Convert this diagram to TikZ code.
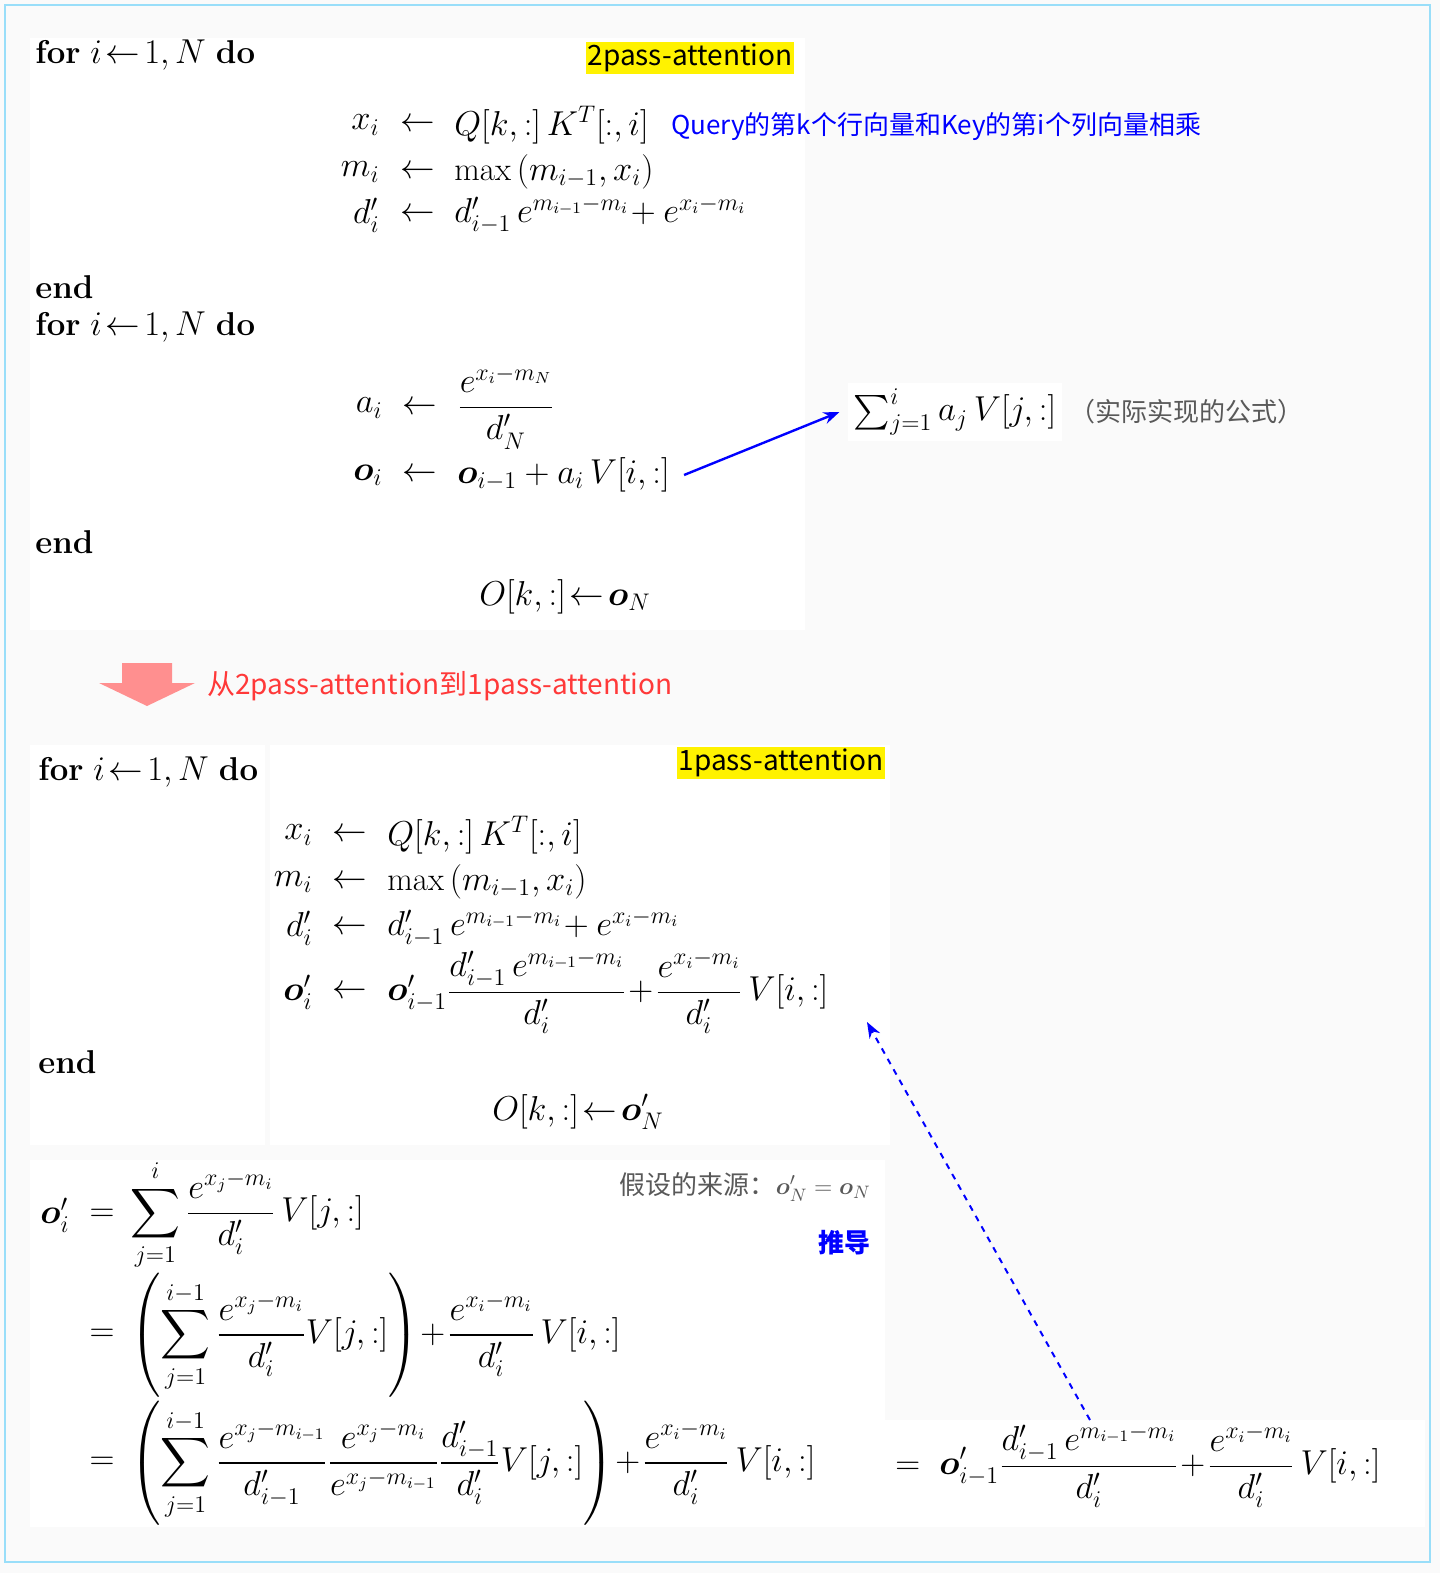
\documentclass[tikz,border=0pt]{standalone}
\usepackage{amsmath,bm}
\usepackage{fontspec}
\newfontfamily\cjk{Noto Sans CJK SC}
\usetikzlibrary{arrows.meta}
\tikzset{
  m/.style={font=\fontsize{16.5}{19}\selectfont, inner sep=1pt},
  lhs/.style={m, anchor=east},
  rhs/.style={m, anchor=west},
  kw/.style={m, anchor=west},
  panel/.style={fill=white, draw=none},
  tag/.style={font=\cjk\fontsize{14}{16}\selectfont, fill=yellow, inner sep=1pt},
  gray/.style={font=\cjk\fontsize{13}{16}\selectfont, text=black!65},
}
\newcommand{\la}{\leftarrow}
\begin{document}
\begin{tikzpicture}[x=0.5pt,y=-0.5pt]
\useasboundingbox (0,0) rectangle (1440,1573);
\fill[black!2] (0,0) rectangle (1440,1573);
\draw[cyan!40, line width=1pt] (5,5) rectangle (1430,1562);
% panels
\fill[panel] (30,38) rectangle (805,630);
\fill[panel] (30,745) rectangle (265,1145);
\fill[panel] (270,745) rectangle (890,1145);
\fill[panel] (30,1160) rectangle (885,1527);
\fill[panel] (885,1420) rectangle (1425,1527);
% top block
\node[kw] (for1) at (33,55) {\textbf{for} $i\!\la\!1,N$ \textbf{do}};
\node[tag] (t2) at (690,58) {2pass-attention};
\node[lhs] (x1) at (382,125) {$x_i$};
\node[m] at (418,125) {$\la$};
\node[rhs] (x1r) at (452,125) {$Q[k,:]\,K^T[:,i]$};
\node[anchor=west, font=\cjk\fontsize{13}{16}\selectfont, text=blue] (q) at (664,127) {Query的第k个行向量和Key的第i个列向量相乘};
\node[lhs] (m1) at (382,172) {$m_i$};
\node[m] at (418,172) {$\la$};
\node[rhs] (m1r) at (452,172) {$\max\,(m_{i-1},x_i)$};
\node[lhs] (d1) at (382,215) {$d'_i$};
\node[m] at (418,215) {$\la$};
\node[rhs] (d1r) at (452,215) {$d'_{i-1}\,e^{m_{i-1}-m_i}\!+e^{x_i-m_i}$};
\node[kw] (end1) at (33,287) {\textbf{end}};
\node[kw] (for2) at (33,327) {\textbf{for} $i\!\la\!1,N$ \textbf{do}};
\node[lhs] (a1) at (385,408) {$a_i$};
\node[m] at (420,408) {$\la$};
\node[rhs] (a1r) at (455,408) {$\dfrac{e^{x_i-m_N}}{d'_N}$};
\node[lhs] (o1) at (385,475) {$\bm{o}_i$};
\node[m] at (420,475) {$\la$};
\node[rhs] (o1r) at (455,475) {$\bm{o}_{i-1}+a_i\,V[i,:]$};
\node[kw] (end2) at (33,542) {\textbf{end}};
\node[m] (O1) at (565,597) {$O[k,:]\!\la\!\bm{o}_N$};
\node[m, fill=white, inner sep=3pt] (sum) at (955,412) {$\sum_{j=1}^{i} a_j\,V[j,:]$};
\node[gray, anchor=west] (impl) at (sum.east) {（实际实现的公式）};
\draw[blue, line width=1.2pt, -{Stealth[length=8pt]}] ([xshift=6pt]o1r.east) -- ([xshift=-4pt]sum.west);
% big arrow
\fill[red!40!pink!80] (122,663) -- (172,663) -- (172,683) -- (195,683) -- (147,706) -- (99,683) -- (122,683) -- cycle;
\node[anchor=west, font=\cjk\fontsize{14}{16}\selectfont, text=red!70!pink] (tr) at (200,686) {从2pass-attention到1pass-attention};
% bottom block
\node[kw] (for3) at (36,772) {\textbf{for} $i\!\la\!1,N$ \textbf{do}};
\node[tag] (t1) at (781,763) {1pass-attention};
\node[lhs] (x2) at (315,835) {$x_i$};
\node[m] at (350,835) {$\la$};
\node[rhs] (x2r) at (385,835) {$Q[k,:]\,K^T[:,i]$};
\node[lhs] (m2) at (315,882) {$m_i$};
\node[m] at (350,882) {$\la$};
\node[rhs] (m2r) at (385,882) {$\max\,(m_{i-1},x_i)$};
\node[lhs] (d2) at (315,928) {$d'_i$};
\node[m] at (350,928) {$\la$};
\node[rhs] (d2r) at (385,928) {$d'_{i-1}\,e^{m_{i-1}-m_i}\!+e^{x_i-m_i}$};
\node[lhs] (o2) at (315,992) {$\bm{o}'_i$};
\node[m] at (350,992) {$\la$};
\node[rhs] (o2r) at (385,992) {$\bm{o}'_{i-1}\dfrac{d'_{i-1}\,e^{m_{i-1}-m_i}}{d'_i}\!+\!\dfrac{e^{x_i-m_i}}{d'_i}\,V[i,:]$};
\node[kw] (end3) at (36,1062) {\textbf{end}};
\node[m] (O2) at (578,1112) {$O[k,:]\!\la\!\bm{o}'_N$};
% derivation
\node[lhs] (oo) at (72,1215) {$\bm{o}'_i$};
\node[m] at (102,1215) {$=$};
\node[rhs] (r1) at (128,1215) {$\displaystyle\sum_{j=1}^{i}\frac{e^{x_j-m_i}}{d'_i}\,V[j,:]$};
\node[gray, anchor=east] (src) at (878,1187) {假设的来源：$\bm{o}'_N=\bm{o}_N$};
\node[anchor=east, font=\cjk\bfseries\fontsize{13}{16}\selectfont, text=blue] (pd) at (878,1243) {推导};
\node[m] at (102,1335) {$=$};
\node[rhs] (r2) at (128,1335) {$\displaystyle\left(\sum_{j=1}^{i-1}\frac{e^{x_j-m_i}}{d'_i}V[j,:]\right)\!+\!\frac{e^{x_i-m_i}}{d'_i}\,V[i,:]$};
\node[m] at (102,1463) {$=$};
\node[rhs] (r3) at (128,1463) {$\displaystyle\left(\sum_{j=1}^{i-1}\frac{e^{x_j-m_{i-1}}}{d'_{i-1}}\frac{e^{x_j-m_i}}{e^{x_j-m_{i-1}}}\frac{d'_{i-1}}{d'_i}V[j,:]\right)\!+\!\frac{e^{x_i-m_i}}{d'_i}\,V[i,:]$};
\node[rhs] (r4) at (893,1466) {$\displaystyle=\;\bm{o}'_{i-1}\frac{d'_{i-1}\,e^{m_{i-1}-m_i}}{d'_i}\!+\!\frac{e^{x_i-m_i}}{d'_i}\,V[i,:]$};
\coordinate (c4) at (1090,1420);
\coordinate (c2) at (867,1022);
\draw[blue, dashed, line width=1pt, -{Stealth[length=8pt]}] (c4) -- (c2);
\end{tikzpicture}
\end{document}
